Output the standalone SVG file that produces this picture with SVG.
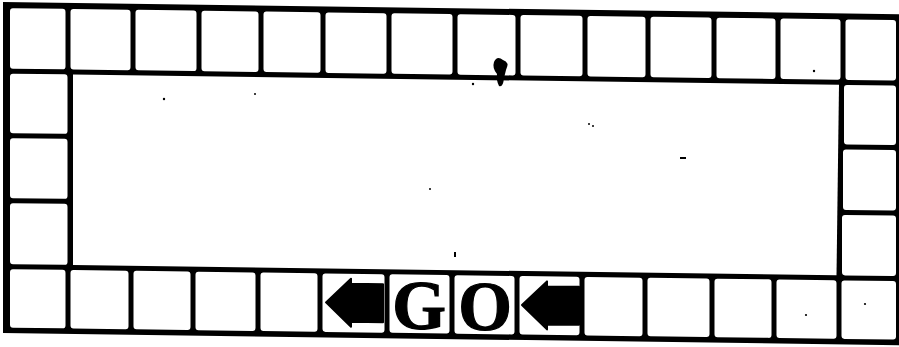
<svg xmlns="http://www.w3.org/2000/svg" width="899" height="347" viewBox="0 0 899 347">
<style>
.cell{fill:#fff}
.arrow{fill:#000;stroke:#000;stroke-width:2;stroke-linejoin:round}
.go{font-family:"Liberation Serif","Times New Roman",serif;font-weight:bold;font-size:69px;fill:#000;stroke:#000;stroke-width:1.2;text-anchor:middle}
.speck{fill:#000}
</style>
<rect width="899" height="347" fill="#fff"/>
<g id="board" transform="matrix(1,0.0135,0,1,0,0)">
  <rect id="frame" x="3" y="2" width="896" height="331" fill="#000"/>
  <g id="top-row">
    <rect class="cell" x="10" y="8" width="55.5" height="60.5" rx="3"/>
    <rect class="cell" x="70.5" y="8" width="60" height="60.5" rx="3"/>
    <rect class="cell" x="135.5" y="8" width="61" height="60.5" rx="3"/>
    <rect class="cell" x="201.5" y="8" width="57" height="60.5" rx="3"/>
    <rect class="cell" x="263.5" y="8" width="57" height="60.5" rx="3"/>
    <rect class="cell" x="325.5" y="8" width="61" height="60.5" rx="3"/>
    <rect class="cell" x="391.5" y="8" width="61" height="60.5" rx="3"/>
    <rect class="cell" x="457.5" y="8" width="58" height="60.5" rx="3"/>
    <rect class="cell" x="520.5" y="8" width="62" height="60.5" rx="3"/>
    <rect class="cell" x="587.5" y="8" width="58" height="60.5" rx="3"/>
    <rect class="cell" x="650.5" y="8" width="61" height="60.5" rx="3"/>
    <rect class="cell" x="716.5" y="8" width="59" height="60.5" rx="3"/>
    <rect class="cell" x="780.5" y="8" width="60" height="60.5" rx="3"/>
    <rect class="cell" x="845.5" y="8" width="50.5" height="60.5" rx="3"/>
  </g>
  <g id="left-column">
    <rect class="cell" x="10" y="73.5" width="57.5" height="59.5" rx="3"/>
    <rect class="cell" x="10" y="138" width="57.5" height="60" rx="3"/>
    <rect class="cell" x="10" y="203" width="57.5" height="61" rx="3"/>
  </g>
  <g id="right-column">
    <rect class="cell" x="844" y="73.5" width="52" height="59.5" rx="3"/>
    <rect class="cell" x="843" y="138" width="53" height="60.5" rx="3"/>
    <rect class="cell" x="842" y="203.5" width="54" height="60.5" rx="3"/>
  </g>
  <polygon id="centre" class="cell" points="73,73.5 839,73.5 836.5,264 73,264"/>
  <g id="bottom-row">
    <rect class="cell" x="10" y="269" width="55.5" height="58.5" rx="3"/>
    <rect class="cell" x="70.5" y="269" width="58" height="58.5" rx="3"/>
    <rect class="cell" x="133.5" y="269" width="57" height="58.5" rx="3"/>
    <rect class="cell" x="195.5" y="269" width="60" height="58.5" rx="3"/>
    <rect class="cell" x="260.5" y="269" width="57" height="58.5" rx="3"/>
    <rect class="cell" x="322.5" y="269" width="62" height="58.5" rx="3"/>
    <rect class="cell" x="389.5" y="269" width="60" height="58.5" rx="3"/>
    <rect class="cell" x="454.5" y="269" width="60" height="58.5" rx="3"/>
    <rect class="cell" x="519.5" y="269" width="60" height="58.5" rx="3"/>
    <rect class="cell" x="584.5" y="269" width="58" height="58.5" rx="3"/>
    <rect class="cell" x="647.5" y="269" width="62" height="58.5" rx="3"/>
    <rect class="cell" x="714.5" y="269" width="57" height="58.5" rx="3"/>
    <rect class="cell" x="776.5" y="269" width="60" height="58.5" rx="3"/>
    <rect class="cell" x="841.5" y="269" width="54.5" height="58.5" rx="3"/>
  </g>
  <g id="arrows">
    <path id="arrow-1" class="arrow" d="M326,298 L351,274 L351,279 L383,279 L383,317 L351,317 L351,322 Z"/>
    <path id="arrow-2" class="arrow" transform="translate(196,0)" d="M326,298 L351,274 L351,279 L383,279 L383,317 L351,317 L351,322 Z"/>
  </g>
</g>
<g id="go-label">
  <text class="go" x="419" y="329">G</text>
  <text class="go" x="485" y="330">O</text>
</g>
<g id="specks">
  <path class="speck" d="M494,62 Q497,55 503,60 Q510,62 506,70 L504,78 Q503,88 499,86 Q496,80 497,74 Q492,68 494,62 Z"/>
  <circle class="speck" cx="473" cy="84" r="1.2"/>
  <circle class="speck" cx="164" cy="99" r="1.2"/>
  <circle class="speck" cx="255" cy="94" r="1"/>
  <circle class="speck" cx="589" cy="124" r="1"/>
  <circle class="speck" cx="593" cy="126" r="1"/>
  <rect class="speck" x="680" y="157" width="6" height="2"/>
  <circle class="speck" cx="430" cy="189" r="1"/>
  <rect class="speck" x="454" y="252" width="2" height="5"/>
  <circle class="speck" cx="814" cy="71" r="1.2"/>
  <circle class="speck" cx="806" cy="315" r="1.1"/>
  <circle class="speck" cx="865" cy="304" r="1.1"/>
</g>
</svg>
